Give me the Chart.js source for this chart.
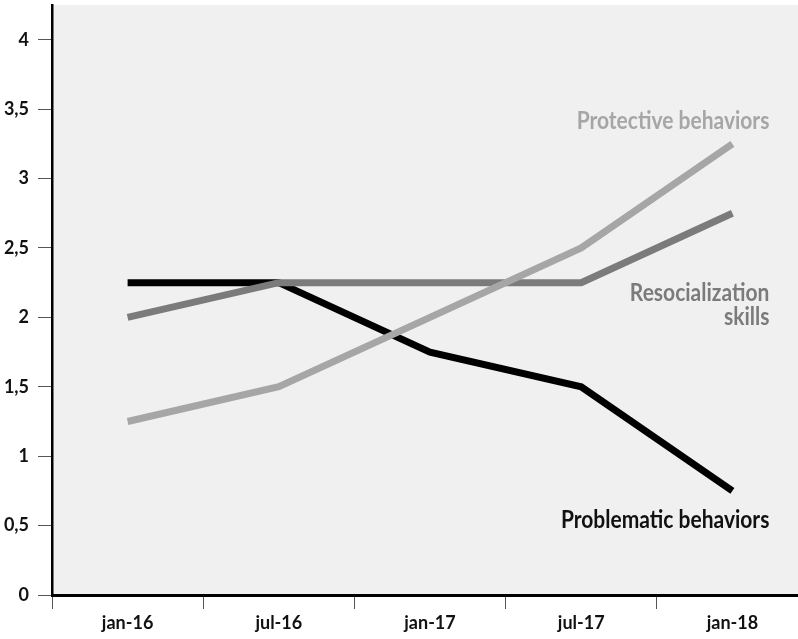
<!DOCTYPE html>
<html>
<head>
<meta charset="utf-8">
<script src="https://cdn.jsdelivr.net/npm/chart.js@4/dist/chart.umd.min.js"></script>
<style>
  html, body { margin: 0; padding: 0; background: #ffffff; overflow: hidden; }
  #wrap { width: 798px; height: 639px; overflow: hidden; }
  canvas { display: block; }
</style>
</head>
<body>
<div id="wrap"><canvas id="chart" width="808" height="639"></canvas></div>
<script>
// Survey waves (x categories)
const periods = ['jan-16', 'jul-16', 'jan-17', 'jul-17', 'jan-18'];

// Mean scores per wave
const protectiveBehaviors = [1.25, 1.5, 2.0, 2.5, 3.25];
const resocializationSkills = [2.0, 2.25, 2.25, 2.25, 2.75];
const problematicBehaviors = [2.25, 2.25, 1.75, 1.5, 0.75];

// Y axis ticks
const yTickValues = [0, 0.5, 1, 1.5, 2, 2.5, 3, 3.5, 4];
const yTickLabels = ['0', '0,5', '1', '1,5', '2', '2,5', '3', '3,5', '4'];

const FONT = 'Lato, "Open Sans", "DejaVu Sans Condensed", sans-serif';

// Shades the plot area
const plotBackground = {
  id: 'plotBackground',
  beforeDraw(chart) {
    const { ctx, chartArea: a } = chart;
    ctx.save();
    ctx.fillStyle = '#f0f0f0';
    ctx.fillRect(a.left, a.top, a.right - a.left, a.bottom - a.top);
    ctx.restore();
  }
};

// Series names written next to the line ends, in a narrowed face
const seriesLabels = {
  id: 'seriesLabels',
  afterDatasetsDraw(chart, args, opts) {
    const { ctx, scales: { x, y } } = chart;
    const right = x.getPixelForValue(periods.length - 1) + opts.offsetX;
    ctx.save();
    ctx.font = opts.font;
    ctx.textAlign = 'right';
    ctx.textBaseline = 'alphabetic';
    opts.items.forEach(item => {
      ctx.fillStyle = item.color;
      const base = y.getPixelForValue(item.at);
      item.lines.forEach((line, i) => {
        ctx.save();
        ctx.translate(right, base + i * opts.lineHeight);
        ctx.scale(opts.condense, 1);
        ctx.fillText(line, 0, 0);
        ctx.restore();
      });
    });
    ctx.restore();
  }
};

new Chart(document.getElementById('chart'), {
  type: 'line',
  data: {
    labels: periods,
    datasets: [
      {
        label: 'Protective behaviors',
        data: protectiveBehaviors,
        borderColor: '#a6a6a6',
        borderWidth: 7,
        pointRadius: 0,
        tension: 0
      },
      {
        label: 'Resocialization skills',
        data: resocializationSkills,
        borderColor: '#7b7b7b',
        borderWidth: 7,
        pointRadius: 0,
        tension: 0
      },
      {
        label: 'Problematic behaviors',
        data: problematicBehaviors,
        borderColor: '#000000',
        borderWidth: 7,
        pointRadius: 0,
        tension: 0
      }
    ]
  },
  options: {
    responsive: false,
    animation: false,
    devicePixelRatio: 1,
    layout: { padding: { top: 5, right: 0, bottom: 0, left: 0 } },
    plugins: {
      legend: { display: false },
      tooltip: { enabled: false },
      seriesLabels: {
        font: 'bold 24px ' + FONT,
        condense: 0.875,
        offsetX: 37,
        lineHeight: 24,
        items: [
          { lines: ['Protective behaviors'], at: 3.357, color: '#a6a6a6' },
          { lines: ['Resocialization', 'skills'], at: 2.12, color: '#7b7b7b' },
          { lines: ['Problematic behaviors'], at: 0.483, color: '#111111' }
        ]
      }
    },
    scales: {
      x: {
        type: 'category',
        offset: true,
        border: { display: true, color: '#000000', width: 3 },
        grid: {
          offset: true,
          drawOnChartArea: false,
          drawTicks: true,
          tickLength: 14,
          color: '#555555',
          lineWidth: 1
        },
        ticks: {
          color: '#111111',
          padding: 3,
          maxRotation: 0,
          font: { family: FONT, size: 18, weight: 'bold' }
        },
        afterFit(scale) {
          scale.height = 44;
          scale.paddingLeft = 0;
          scale.paddingRight = 0;
        }
      },
      y: {
        type: 'linear',
        min: 0,
        max: 4.25,
        border: { display: true, color: '#000000', width: 2.5 },
        grid: {
          drawOnChartArea: false,
          drawTicks: true,
          tickLength: 14,
          color: '#555555',
          lineWidth: 1
        },
        afterBuildTicks(scale) {
          scale.ticks = yTickValues.map(v => ({ value: v }));
        },
        ticks: {
          color: '#111111',
          padding: 9,
          font: { family: FONT, size: 18, weight: 'bold' },
          callback(value) {
            const i = yTickValues.indexOf(value);
            return i >= 0 ? yTickLabels[i] : '';
          }
        },
        afterFit(scale) {
          scale.width = 52;
          scale.paddingTop = 0;
          scale.paddingBottom = 0;
        }
      }
    }
  },
  plugins: [plotBackground, seriesLabels]
});
</script>
</body>
</html>
